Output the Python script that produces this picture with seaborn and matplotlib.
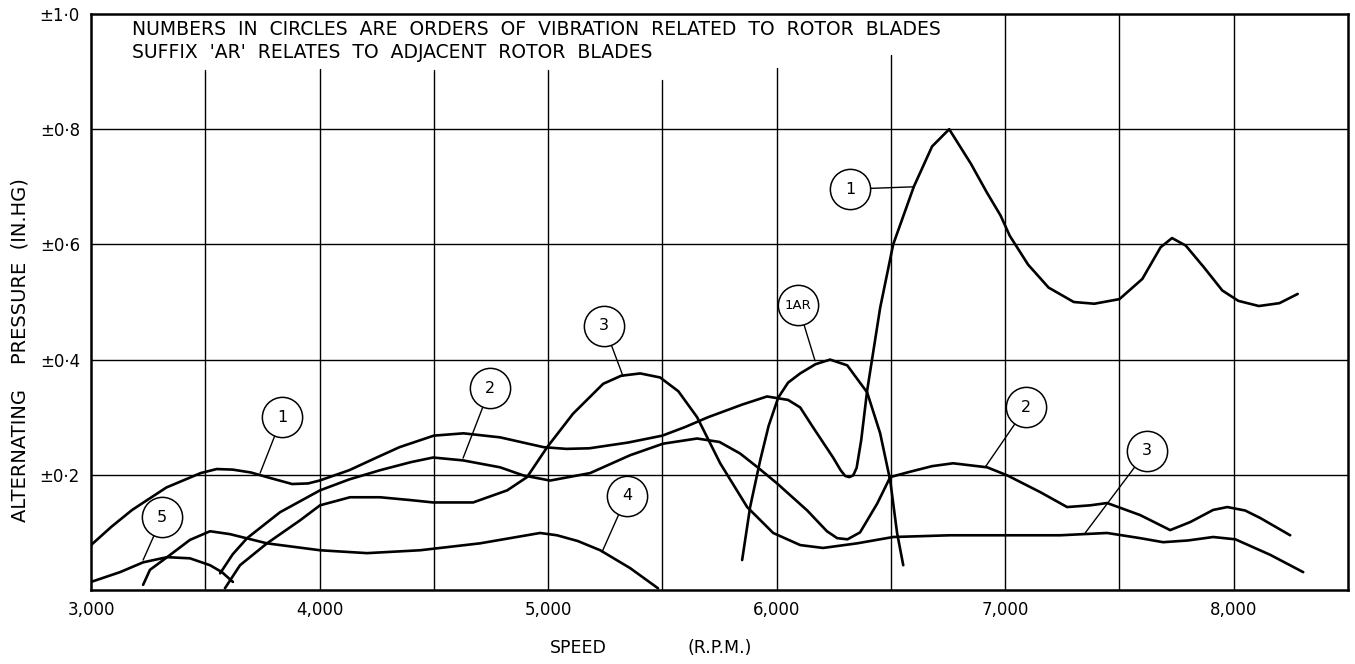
import matplotlib
matplotlib.use("Agg")
import matplotlib.pyplot as plt
import seaborn as sns
import pandas as pd

# ---------------- data ----------------
c1_rpm = [3000, 3090, 3180, 3330, 3480, 3550, 3620, 3700, 3770, 3880, 3950, 4000, 4130, 4250, 4350,
          4500, 4630, 4790, 4980, 5080, 5180, 5350, 5500, 5600, 5700, 5850, 5958, 6050, 6103, 6160,
          6247, 6280, 6300, 6318, 6335, 6350, 6370, 6396, 6453, 6510, 6600, 6680, 6755, 6850, 6920, 6980,
          7020, 7100, 7190, 7300, 7390, 7500, 7600, 7680, 7730, 7790, 7870, 7950, 8020, 8110, 8200, 8280]
c1_val = [0.078, 0.110, 0.139, 0.178, 0.203, 0.210, 0.209, 0.204, 0.196, 0.184, 0.185, 0.190, 0.208, 0.230, 0.248,
          0.268, 0.272, 0.265, 0.248, 0.245, 0.246, 0.256, 0.268, 0.283, 0.300, 0.322, 0.336, 0.330, 0.317, 0.282,
          0.230, 0.208, 0.198, 0.196, 0.199, 0.212, 0.260, 0.346, 0.490, 0.600, 0.700, 0.770, 0.800, 0.740, 0.690,
          0.650, 0.615, 0.565, 0.525, 0.500, 0.497, 0.505, 0.540, 0.595, 0.611, 0.598, 0.560, 0.520, 0.502, 0.493,
          0.498, 0.514]

c2_rpm = [3565, 3620, 3683, 3827, 4002, 4130, 4265, 4400, 4497, 4628, 4790, 4891, 5009, 5184, 5359,
          5503, 5652, 5750, 5840, 5920, 6002, 6134, 6220, 6265, 6310, 6365, 6440, 6497, 6571, 6680, 6772, 6921,
          7009, 7153, 7271, 7372, 7446, 7591, 7722, 7810, 7910, 7972, 8050, 8116, 8247]
c2_val = [0.029, 0.062, 0.090, 0.135, 0.173, 0.192, 0.208, 0.222, 0.230, 0.225, 0.213, 0.199, 0.190, 0.203, 0.234,
          0.254, 0.263, 0.257, 0.237, 0.212, 0.185, 0.138, 0.102, 0.090, 0.088, 0.100, 0.150, 0.196, 0.204, 0.215,
          0.220, 0.213, 0.199, 0.170, 0.144, 0.147, 0.151, 0.130, 0.104, 0.118, 0.139, 0.144, 0.138, 0.125, 0.095]

c3_rpm = [3586, 3652, 3770, 3915, 4002, 4133, 4265, 4400, 4497, 4672, 4821, 4908, 4996, 5109, 5241,
          5320, 5403, 5490, 5570, 5652, 5753, 5871, 5985, 6103, 6203, 6352, 6510, 6759, 7000, 7241,
          7446, 7591, 7691, 7800, 7910, 8007, 8160, 8304]
c3_val = [0.003, 0.043, 0.081, 0.121, 0.147, 0.161, 0.161, 0.156, 0.152, 0.152, 0.173, 0.196, 0.248, 0.306, 0.358,
          0.372, 0.376, 0.369, 0.345, 0.300, 0.220, 0.144, 0.099, 0.078, 0.073, 0.081, 0.092, 0.095, 0.095, 0.095,
          0.099, 0.090, 0.083, 0.086, 0.092, 0.088, 0.061, 0.031]

c4_rpm = [3228, 3258, 3333, 3433, 3521, 3608, 3770, 4002, 4208, 4440, 4702, 4965, 5039, 5130, 5228, 5359, 5481]
c4_val = [0.009, 0.035, 0.057, 0.087, 0.102, 0.097, 0.081, 0.069, 0.064, 0.069, 0.081, 0.099, 0.095, 0.085, 0.069, 0.038, 0.003]

c5_rpm = [3000, 3127, 3228, 3333, 3433, 3521, 3573, 3621]
c5_val = [0.014, 0.031, 0.048, 0.057, 0.055, 0.043, 0.031, 0.014]

c1ar_rpm = [5849, 5884, 5928, 5965, 6007, 6050, 6103, 6170, 6234, 6309, 6396, 6453, 6497, 6527, 6554]
c1ar_val = [0.052, 0.144, 0.225, 0.285, 0.334, 0.360, 0.376, 0.392, 0.400, 0.390, 0.343, 0.272, 0.190, 0.099, 0.043]

# circled labels: text, circle centre (rpm, value), leader end on curve (rpm, value)
label_text = ["1", "5", "2", "3", "4", "1AR", "1", "2", "3"]
label_x = [3836, 3311, 4746, 5245, 5346, 6094, 6322, 7092, 7621]
label_y = [0.300, 0.126, 0.350, 0.459, 0.164, 0.494, 0.696, 0.317, 0.242]
leader_x = [3740, 3228, 4628, 5328, 5236, 6168, 6602, 6912, 7350]
leader_y = [0.203, 0.052, 0.229, 0.371, 0.066, 0.398, 0.700, 0.213, 0.099]

x_ticks = [3000, 4000, 5000, 6000, 7000, 8000]
x_ticklabels = ["3,000", "4,000", "5,000", "6,000", "7,000", "8,000"]
y_ticks = [0.2, 0.4, 0.6, 0.8, 1.0]
y_ticklabels = ["±0·2", "±0·4", "±0·6", "±0·8", "±1·0"]
v_grid = [3500, 4000, 4500, 5000, 5500, 6000, 6500, 7000, 7500, 8000]
v_grid_top = [0.903, 0.905, 0.903, 0.903, 0.885, 0.906, 0.929, 1.0, 1.0, 1.0]
h_grid = [0.2, 0.4, 0.6, 0.8]

# ---------------- plotting ----------------
sns.set_style("white")
plt.rcParams["font.family"] = ["DejaVu Sans"]
plt.rcParams["text.color"] = "black"
plt.rcParams["xtick.color"] = "black"
plt.rcParams["ytick.color"] = "black"
plt.rcParams["axes.labelcolor"] = "black"

fig = plt.figure(figsize=(13.55, 6.64), dpi=100)
ax = fig.add_axes([91 / 1355, 1 - 590 / 664, (1348 - 91) / 1355, (590 - 14) / 664])

for xv, top in zip(v_grid, v_grid_top):
    ax.axvline(xv, ymin=0, ymax=top, color="black", lw=1.0, zorder=1)
for yv in h_grid:
    ax.axhline(yv, color="black", lw=1.0, zorder=1)

curves = [(c1_rpm, c1_val), (c2_rpm, c2_val), (c3_rpm, c3_val),
          (c4_rpm, c4_val), (c5_rpm, c5_val), (c1ar_rpm, c1ar_val)]
for xs, ys in curves:
    df = pd.DataFrame({"rpm": xs, "p": ys})
    sns.lineplot(data=df, x="rpm", y="p", ax=ax, color="black", lw=1.9,
                 sort=False, estimator=None, zorder=3)

for t, cx, cy, lx, ly in zip(label_text, label_x, label_y, leader_x, leader_y):
    ax.annotate("", xy=(lx, ly), xytext=(cx, cy),
                arrowprops=dict(arrowstyle="-", color="black", lw=1.0,
                                shrinkA=14.5, shrinkB=0), zorder=4)
    ax.plot([cx], [cy], marker="o", ms=29, mfc="white", mec="black", mew=1.1, zorder=5)
    ax.text(cx, cy, t, ha="center", va="center", fontsize=11.5 if len(t) < 3 else 9.5,
            zorder=6)

ax.set_xlim(3000, 8500)
ax.set_ylim(0, 1.0)
ax.set_xticks(x_ticks)
ax.set_xticklabels(x_ticklabels, fontsize=12)
ax.set_yticks(y_ticks)
ax.set_yticklabels(y_ticklabels, fontsize=12)
ax.tick_params(length=0, pad=8, colors="black")
ax.set_xlabel("")
ax.set_ylabel("")
for s in ax.spines.values():
    s.set_visible(True)
    s.set_color("black")
    s.set_linewidth(1.8)

ax.text(0.033, 0.99,
        "NUMBERS  IN  CIRCLES  ARE  ORDERS  OF  VIBRATION  RELATED  TO  ROTOR  BLADES\n"
        "SUFFIX  'AR'  RELATES  TO  ADJACENT  ROTOR  BLADES",
        transform=ax.transAxes, ha="left", va="top", fontsize=13.5, linespacing=1.3,
        zorder=7)

fig.text(578 / 1355, 1 - 648 / 664, "SPEED", ha="center", va="center", fontsize=12.5)
fig.text(720 / 1355, 1 - 648 / 664, "(R.P.M.)", ha="center", va="center", fontsize=12.5)
fig.text(20 / 1355, 1 - 350 / 664, "ALTERNATING    PRESSURE  (IN.HG)", rotation=90,
         ha="center", va="center", fontsize=14)

fig.savefig("out.png", dpi=100, facecolor="white")
